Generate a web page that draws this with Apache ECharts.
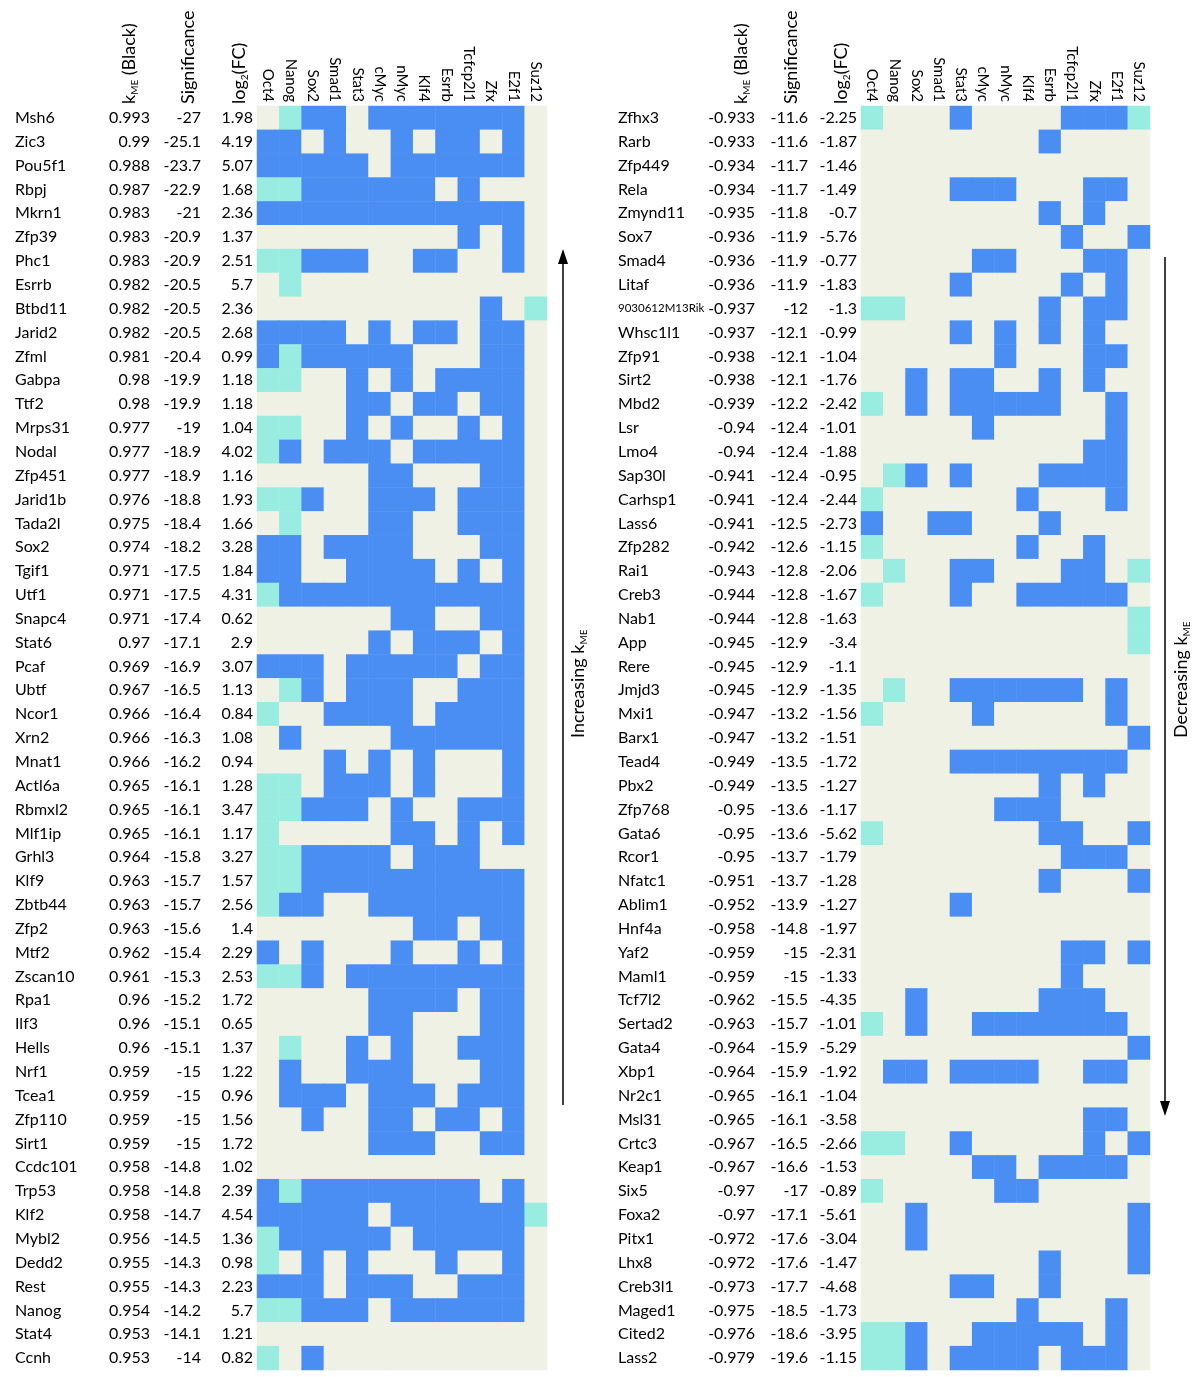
<!DOCTYPE html>
<html><head><meta charset="utf-8">
<script src="https://cdn.jsdelivr.net/npm/echarts@6/dist/echarts.min.js"></script>
<style>html,body{margin:0;padding:0;background:#fff}#c{width:1200px;height:1377px}</style>
</head><body><div id="c"></div>
<script>
const factors = ['Oct4','Nanog','Sox2','Smad1','Stat3','cMyc','nMyc','Klf4','Esrrb','Tcfcp2l1','Zfx','E2f1','Suz12'];

const leftGenes = ['Msh6','Zic3','Pou5f1','Rbpj','Mkrn1','Zfp39','Phc1','Esrrb','Btbd11','Jarid2','Zfml','Gabpa','Ttf2','Mrps31','Nodal','Zfp451','Jarid1b','Tada2l','Sox2','Tgif1','Utf1','Snapc4','Stat6','Pcaf','Ubtf','Ncor1','Xrn2','Mnat1','Actl6a','Rbmxl2','Mlf1ip','Grhl3','Klf9','Zbtb44','Zfp2','Mtf2','Zscan10','Rpa1','Ilf3','Hells','Nrf1','Tcea1','Zfp110','Sirt1','Ccdc101','Trp53','Klf2','Mybl2','Dedd2','Rest','Nanog','Stat4','Ccnh'];
const leftKme = [0.993,0.99,0.988,0.987,0.983,0.983,0.983,0.982,0.982,0.982,0.981,0.98,0.98,0.977,0.977,0.977,0.976,0.975,0.974,0.971,0.971,0.971,0.97,0.969,0.967,0.966,0.966,0.966,0.965,0.965,0.965,0.964,0.963,0.963,0.963,0.962,0.961,0.96,0.96,0.96,0.959,0.959,0.959,0.959,0.958,0.958,0.958,0.956,0.955,0.955,0.954,0.953,0.953];
const leftSig = [-27,-25.1,-23.7,-22.9,-21,-20.9,-20.9,-20.5,-20.5,-20.5,-20.4,-19.9,-19.9,-19,-18.9,-18.9,-18.8,-18.4,-18.2,-17.5,-17.5,-17.4,-17.1,-16.9,-16.5,-16.4,-16.3,-16.2,-16.1,-16.1,-16.1,-15.8,-15.7,-15.7,-15.6,-15.4,-15.3,-15.2,-15.1,-15.1,-15,-15,-15,-15,-14.8,-14.8,-14.7,-14.5,-14.3,-14.3,-14.2,-14.1,-14];
const leftFC = [1.98,4.19,5.07,1.68,2.36,1.37,2.51,5.7,2.36,2.68,0.99,1.18,1.18,1.04,4.02,1.16,1.93,1.66,3.28,1.84,4.31,0.62,2.9,3.07,1.13,0.84,1.08,0.94,1.28,3.47,1.17,3.27,1.57,2.56,1.4,2.29,2.53,1.72,0.65,1.37,1.22,0.96,1.56,1.72,1.02,2.39,4.54,1.36,0.98,2.23,5.7,1.21,0.82];
// 0 = not bound, 1 = bound, 2 = weak (cyan); one string per gene, one digit per factor
const leftBinding = [
'0211011111110','1101001011010','1111101111110','2211111101000','1111111111110',
'0000000001010','2211100110010','0200000000000','0000000000102','1111010110110',
'1211111000110','2200101011110','0000110110110','2200101001010','2101110111110',
'0000011000110','2210011101110','0200011001110','1101111000110','1100111101010',
'2111111111110','0000001100110','0000010111010','1110111110110','0210111001110',
'2001111011110','0100001111110','0001010100010','2201110100010','2211101001110',
'2000001101010','2211110111000','2211111111110','2110011111110','0000000110110',
'1010001001010','2210111111110','0000011110110','0000011000110','0200101001110',
'0100111000110','0111011101110','0010011011010','0000011100110','0000000000000',
'1211111111010','1111101111112','2111110111110','2010100010010','1110111001110',
'2211101111110','0000000000000','2010000000000'];

const rightGenes = ['Zfhx3','Rarb','Zfp449','Rela','Zmynd11','Sox7','Smad4','Litaf','9030612M13Rik','Whsc1l1','Zfp91','Sirt2','Mbd2','Lsr','Lmo4','Sap30l','Carhsp1','Lass6','Zfp282','Rai1','Creb3','Nab1','App','Rere','Jmjd3','Mxi1','Barx1','Tead4','Pbx2','Zfp768','Gata6','Rcor1','Nfatc1','Ablim1','Hnf4a','Yaf2','Maml1','Tcf7l2','Sertad2','Gata4','Xbp1','Nr2c1','Msl31','Crtc3','Keap1','Six5','Foxa2','Pitx1','Lhx8','Creb3l1','Maged1','Cited2','Lass2'];
const rightKme = [-0.933,-0.933,-0.934,-0.934,-0.935,-0.936,-0.936,-0.936,-0.937,-0.937,-0.938,-0.938,-0.939,-0.94,-0.94,-0.941,-0.941,-0.941,-0.942,-0.943,-0.944,-0.944,-0.945,-0.945,-0.945,-0.947,-0.947,-0.949,-0.949,-0.95,-0.95,-0.95,-0.951,-0.952,-0.958,-0.959,-0.959,-0.962,-0.963,-0.964,-0.964,-0.965,-0.965,-0.967,-0.967,-0.97,-0.97,-0.972,-0.972,-0.973,-0.975,-0.976,-0.979];
const rightSig = [-11.6,-11.6,-11.7,-11.7,-11.8,-11.9,-11.9,-11.9,-12,-12.1,-12.1,-12.1,-12.2,-12.4,-12.4,-12.4,-12.4,-12.5,-12.6,-12.8,-12.8,-12.8,-12.9,-12.9,-12.9,-13.2,-13.2,-13.5,-13.5,-13.6,-13.6,-13.7,-13.7,-13.9,-14.8,-15,-15,-15.5,-15.7,-15.9,-15.9,-16.1,-16.1,-16.5,-16.6,-17,-17.1,-17.6,-17.6,-17.7,-18.5,-18.6,-19.6];
const rightFC = [-2.25,-1.87,-1.46,-1.49,-0.7,-5.76,-0.77,-1.83,-1.3,-0.99,-1.04,-1.76,-2.42,-1.01,-1.88,-0.95,-2.44,-2.73,-1.15,-2.06,-1.67,-1.63,-3.4,-1.1,-1.35,-1.56,-1.51,-1.72,-1.27,-1.17,-5.62,-1.79,-1.28,-1.27,-1.97,-2.31,-1.33,-4.35,-1.01,-5.29,-1.92,-1.04,-3.58,-2.66,-1.53,-0.89,-5.61,-3.04,-1.47,-4.68,-1.73,-3.95,-1.15];
const rightBinding = [
'2000100001112','0000000010000','0000000000000','0000111000110','0000000010100',
'0000000001001','0000011000110','0000100001010','2200000010110','0000101010100',
'0000001000110','0010110010100','2010111110010','0000010000010','0000000000110',
'0210100011110','2000000100010','1001100010000','2000000100100','0200110001102',
'2000100111110','0000000000002','0000000000002','0000000000000','0200111111010',
'2000010000010','0000000000001','0000111111110','0000000010100','0000001110000',
'2000000011001','0000000001110','0000000010001','0000100000000','0000000000000',
'0000000001101','0000000001000','0010000011100','2010011111110','0000000000001',
'0110111100110','0000000000000','0000000000110','2200100000101','0000011011110',
'2000001100000','0010000000001','0010000000001','0000000010001','0000110010000',
'0000000100010','2210011111010','2210111101110'];

const FONT = 'Lato';
const BEIGE = '#eef1e4', BLUE = '#4a8ef3', CYAN = '#98ede0';

function toCells(rows){const out=[];rows.forEach((r,i)=>{for(let j=0;j<r.length;j++)out.push([j,i,+r[j]]);});return out;}

function yAx(grid, data, margin, align, extra){
  return {type:'category', gridIndex:grid, data:data, inverse:true, position:'left',
    axisLine:{show:false}, axisTick:{show:false}, splitLine:{show:false},
    axisLabel:Object.assign({margin:margin, align:align, interval:0, fontFamily:FONT, fontSize:16, color:'#000'}, extra||{})};
}
function xAx(grid){
  return {type:'category', gridIndex:grid, position:'top', data:factors,
    axisLine:{show:false}, axisTick:{show:false}, splitLine:{show:false},
    axisLabel:{rotate:90, margin:4, interval:0, fontFamily:FONT, fontSize:15, color:'#000'}};
}
const nameLabel = {formatter:function(v){return v.length>10?'{s|'+v+'}':v;}, rich:{s:{fontSize:11.5, fontFamily:FONT, color:'#000'}}};

function mkRich(size){
  return {m:{fontSize:size,fontFamily:FONT,fill:'#000',color:'#000',lineHeight:22,verticalAlign:'middle'},
          s:{fontSize:Math.round(size*0.55),fontFamily:FONT,fill:'#000',color:'#000',lineHeight:22,verticalAlign:'bottom'}};
}
function rtext(x,y,txt,size){
  return {type:'text', x:x, y:y, rotation:Math.PI/2, silent:true,
    style:{text:txt, rich:mkRich(size), align:'left', verticalAlign:'middle', fill:'#000', fontFamily:FONT, fontSize:size}};
}

const chart = echarts.init(document.getElementById('c'), null, {renderer:'canvas'});
chart.setOption({
  backgroundColor:'#ffffff',
  animation:false,
  grid:[{left:257, top:106, width:290, height:1264},{left:861, top:106, width:289, height:1264}],
  xAxis:[xAx(0), xAx(1)],
  yAxis:[
    yAx(0, leftGenes, 242, 'left', nameLabel),
    yAx(0, leftKme.map(String), 107, 'right'),
    yAx(0, leftSig.map(String), 56, 'right'),
    yAx(0, leftFC.map(String), 4, 'right'),
    yAx(1, rightGenes, 243, 'left', nameLabel),
    yAx(1, rightKme.map(String), 106, 'right'),
    yAx(1, rightSig.map(String), 53, 'right'),
    yAx(1, rightFC.map(String), 4, 'right')
  ],
  visualMap:{type:'piecewise', show:false, dimension:2, seriesIndex:[0,1],
    pieces:[{value:0,color:BEIGE},{value:1,color:BLUE},{value:2,color:CYAN}]},
  series:[
    {type:'heatmap', xAxisIndex:0, yAxisIndex:0, data:toCells(leftBinding), itemStyle:{borderWidth:0}, emphasis:{disabled:true}, progressive:0},
    {type:'heatmap', xAxisIndex:1, yAxisIndex:4, data:toCells(rightBinding), itemStyle:{borderWidth:0}, emphasis:{disabled:true}, progressive:0}
  ],
  graphic:[
    rtext(129,104,'{m|k}{s|ME}{m| (Black)}',18),
    rtext(188,104,'{m|Significance}',18),
    rtext(239,104,'{m|log}{s|2}{m|(FC)}',18),
    rtext(741,104,'{m|k}{s|ME}{m| (Black)}',18),
    rtext(791,104,'{m|Significance}',18),
    rtext(841,104,'{m|log}{s|2}{m|(FC)}',18),
    {type:'line', silent:true, shape:{x1:563,y1:1105,x2:563,y2:262}, style:{stroke:'#000', lineWidth:1.5}},
    {type:'polygon', silent:true, shape:{points:[[563,249],[558,264],[568,264]]}, style:{fill:'#000'}},
    rtext(578,738,'{m|Increasing k}{s|ME}',18),
    {type:'line', silent:true, shape:{x1:1165,y1:257,x2:1165,y2:1102}, style:{stroke:'#000', lineWidth:1.5}},
    {type:'polygon', silent:true, shape:{points:[[1165,1116],[1160,1101],[1170,1101]]}, style:{fill:'#000'}},
    rtext(1181,738,'{m|Decreasing k}{s|ME}',18)
  ]
});
</script></body></html>
